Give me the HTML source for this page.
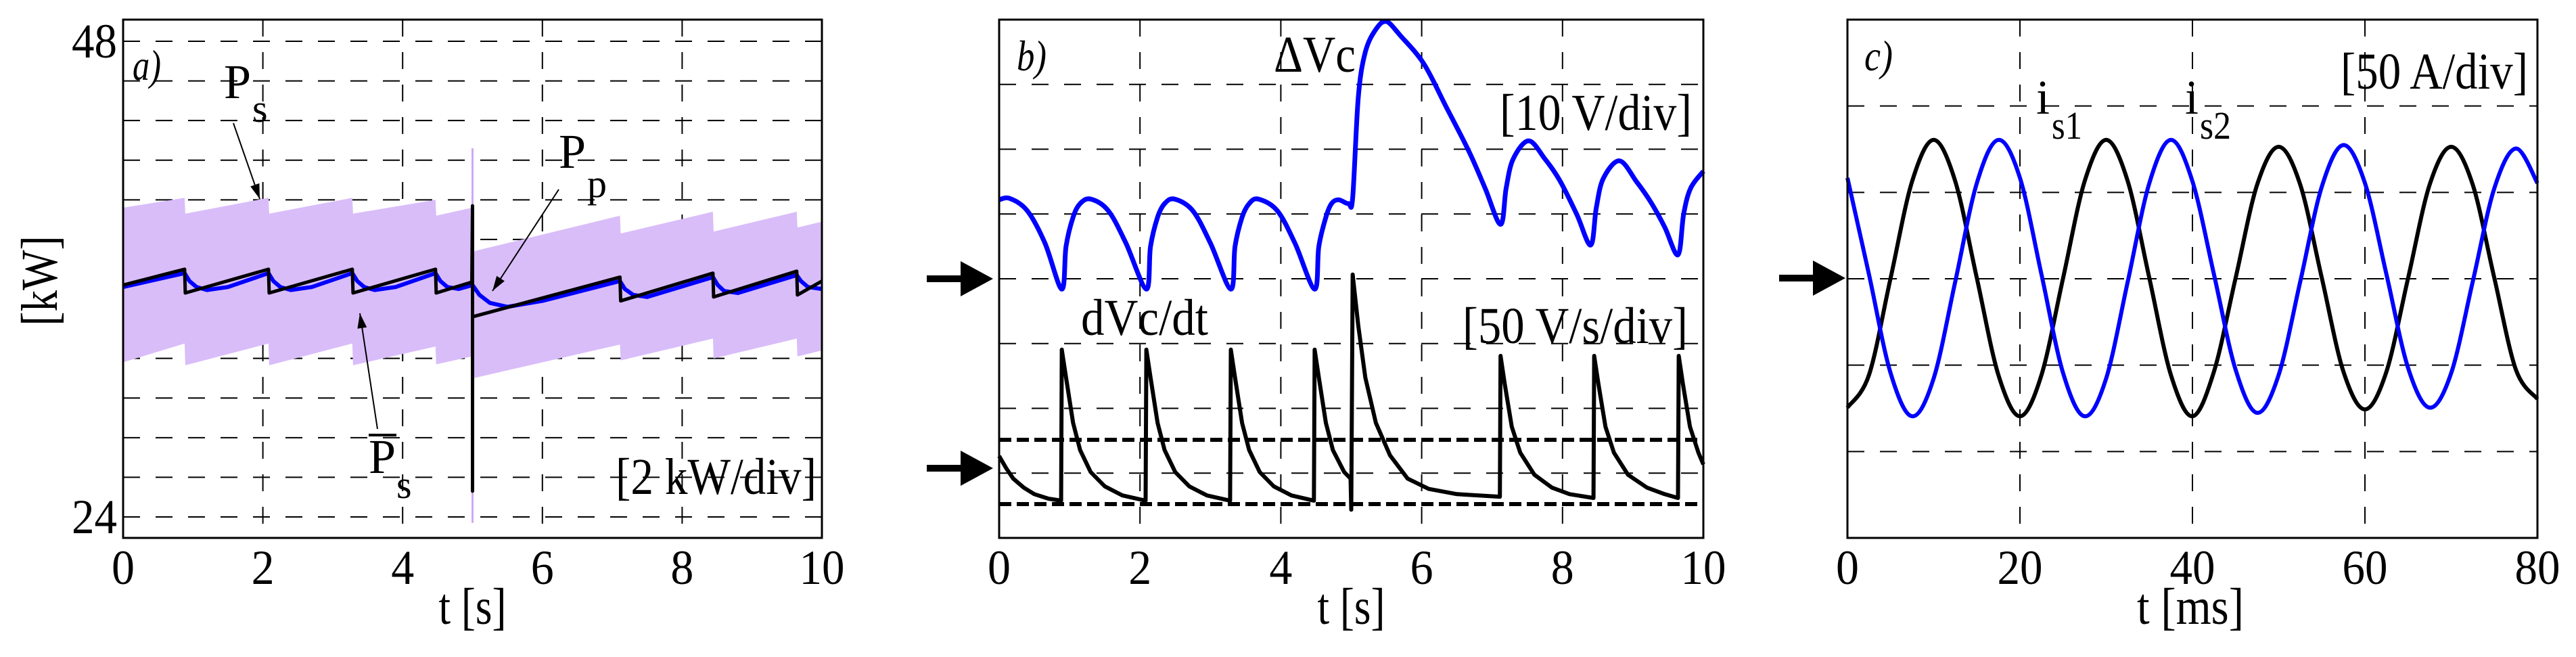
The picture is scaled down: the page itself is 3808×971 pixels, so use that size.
<!DOCTYPE html>
<html><head><meta charset="utf-8"><style>
html,body{margin:0;padding:0;background:#fff;}
svg{display:block;}
text{font-family:"Liberation Serif","Times New Roman",serif;fill:#000;}
</style></head>
<body>
<svg id="fig" width="3808" height="971" viewBox="0 0 3808 971" xmlns="http://www.w3.org/2000/svg">
<rect x="0" y="0" width="3808" height="971" fill="#fff"/>
<g id="pa"></g>
<g id="pb"></g>
<g id="pc"></g>
</svg>
<script>
// ---------- Panel a data ----------
const aXTicks = [0,2,4,6,8,10];
const aYTickLabels = [48,24];
const psT  = [0,0.88,0.89,2.08,2.09,3.28,3.29,4.47,4.48,4.99,5.01,7.11,7.12,8.44,8.45,9.64,9.65,10];
const psHi = [39.6,40.1,39.3,40.1,39.3,40.1,39.3,40.0,39.2,39.6,37.4,39.2,38.3,39.4,38.4,39.4,38.6,38.9];
const psLo = [31.8,32.75,31.65,32.75,31.65,32.75,31.65,32.6,31.7,32.1,31.0,32.7,31.9,33.0,32.0,33.0,32.1,32.4];
const psSpike = [42.6,23.7];
const psBarT = [0,0.88,0.89,2.08,2.09,3.28,3.29,4.47,4.48,4.99,5.0,5.0,5.0,7.11,7.12,8.44,8.45,9.64,9.65,10];
const psBarP = [35.7,36.5,35.3,36.5,35.3,36.5,35.3,36.5,35.3,35.85,39.7,25.3,34.1,36.1,34.9,36.3,35.1,36.4,35.2,35.9];
const ppT = [0,0.88,0.95,1.05,1.2,1.5,2.08,2.15,2.25,2.4,2.7,3.28,3.35,3.45,3.6,3.9,4.47,4.54,4.64,4.8,5.0,5.1,5.25,5.5,6.0,7.11,7.18,7.3,7.5,8.44,8.51,8.6,8.8,9.64,9.7,9.8,10];
const ppP = [35.6,36.3,35.9,35.6,35.45,35.6,36.3,35.9,35.6,35.45,35.6,36.3,35.9,35.6,35.45,35.6,36.3,35.9,35.6,35.5,35.7,35.2,34.8,34.6,34.9,35.9,35.5,35.2,35.1,36.1,35.7,35.4,35.3,36.2,35.9,35.6,35.5];

// ---------- Panel b data ----------
const bXTicks = [0,2,4,6,8,10];
const dvT = [0,0.15,0.4,0.65,0.89,0.95,1.05,1.15,1.3,1.55,1.8,2.09,2.15,2.25,2.35,2.49,2.75,3.0,3.29,3.35,3.45,3.55,3.68,3.95,4.2,4.48,4.54,4.64,4.72,4.82,4.96,5.02,5.1,5.2,5.35,5.5,5.7,6.03,6.35,6.67,6.9,7.12,7.2,7.3,7.52,7.75,7.96,8.2,8.4,8.48,8.58,8.81,9.05,9.25,9.45,9.64,9.72,9.82,10];
const dvV = [12.2,12.4,10.5,5.5,-1.6,5,9.5,11.6,12.3,10.5,5.5,-1.6,5,9.5,11.6,12.3,10.5,5.5,-1.6,5,9.5,11.6,12.3,10.5,5.5,-1.6,5,9.5,11.6,12.2,11.6,12.5,28,35,38.5,39.7,37.5,33.2,26.5,19.7,14,8.4,14,18.5,21.3,18.5,15.2,10,5.2,11,15.5,18.2,15,11.9,8,3.7,10,14,16.6];
const ddT = [0,0.1,0.2,0.35,0.5,0.7,0.88,0.89,0.95,1.05,1.15,1.3,1.5,1.75,2.08,2.09,2.15,2.25,2.35,2.5,2.7,2.95,3.28,3.29,3.35,3.45,3.55,3.7,3.9,4.15,4.47,4.48,4.54,4.64,4.74,4.9,4.99,5.0,5.02,5.1,5.2,5.35,5.55,5.8,6.1,6.5,7.11,7.12,7.18,7.28,7.4,7.6,7.85,8.1,8.44,8.45,8.51,8.61,8.73,8.93,9.2,9.45,9.64,9.65,9.71,9.81,9.93,10];
const ddV = [9.4,0,-8,-15,-20,-23.5,-25,91.5,70,35,14,-3,-14,-21,-25,91.5,70,35,14,-3,-14,-21,-25,91.5,70,35,14,-3,-14,-21,-25,91.5,70,35,14,-3,-8,-32,149.5,110,70,35,10,-8,-16,-20,-22,86.7,65,32,12,-5,-15,-20,-23,86.7,65,32,12,-5,-15,-20,-23,86.7,65,32,12,3];
const ddRef = [21.9,-27.7];

// ---------- Panel c data ----------
const cXTicks = [0,20,40,60,80];
const cT = [0,2.5,5,7.5,10,12.5,15,17.5,20,22.5,25,27.5,30,32.5,35,37.5,40,42.5,45,47.5,50,52.5,55,57.5,60,62.5,65,67.5,70,72.5,75,77.5,80];
const is1 = [-75,-56,0,56,80,56,0,-56,-80,-56,0,56,80,56,0,-56,-80,-54,0,54,76,54,0,-54,-76,-54,0,54,76,54,0,-53,-70];
const is2 = [58,2,-55,-80,-58,-2,55,80,58,2,-55,-80,-58,-2,55,80,56,2,-53,-78,-56,-2,53,77,55,2,-52,-75,-55,-2,52,75,55];

const NS = "http://www.w3.org/2000/svg";
function el(parent, tag, attrs, txt){
  const e = document.createElementNS(NS, tag);
  for (const k in attrs) e.setAttribute(k, attrs[k]);
  if (txt !== undefined) e.textContent = txt;
  parent.appendChild(e);
  return e;
}
function pathFrom(xs, ys, fx, fy){
  let d = "";
  for (let i=0;i<xs.length;i++) d += (i?"L":"M") + fx(xs[i]).toFixed(1) + "," + fy(ys[i]).toFixed(1);
  return d;
}
function smoothPath(xs, ys, fx, fy){
  const P = xs.map((x,i)=>[fx(x), fy(ys[i])]);
  let d = "M"+P[0][0]+","+P[0][1];
  for (let i=0;i<P.length-1;i++){
    const p0=P[Math.max(0,i-1)], p1=P[i], p2=P[i+1], p3=P[Math.min(P.length-1,i+2)];
    const c1=[p1[0]+(p2[0]-p0[0])/6, p1[1]+(p2[1]-p0[1])/6];
    const c2=[p2[0]-(p3[0]-p1[0])/6, p2[1]-(p3[1]-p1[1])/6];
    d += "C"+c1[0].toFixed(1)+","+c1[1].toFixed(1)+" "+c2[0].toFixed(1)+","+c2[1].toFixed(1)+" "+p2[0].toFixed(1)+","+p2[1].toFixed(1);
  }
  return d;
}
function hgrid(g, x0, x1, y){
  const l = el(g,"line",{x1:x0,x2:x1,y1:y,y2:y,stroke:"#000","stroke-width":2,"stroke-dasharray":"25 23"});
  
  
}
function vgrid(g, x, y0, y1){
  const l = el(g,"line",{x1:x,x2:x,y1:y0,y2:y1,stroke:"#000","stroke-width":2,"stroke-dasharray":"25 23"});
  
  
}
function frame(g, x0, y0, x1, y1){
  const r = el(g,"rect",{x:x0,y:y0,width:x1-x0,height:y1-y0,fill:"none",stroke:"#000","stroke-width":3});
  
  
}
function label(g, x, y, s, size, name, extra, len){
  const a = Object.assign({x:x,y:y,"font-size":size},extra||{});
  if (len) { a.textLength = len; a.lengthAdjust = "spacingAndGlyphs"; }
  const t = el(g,"text",a, s);
  
  
  return t;
}
function tickLen(s){ return s.length>1 ? 67 : 34; }
function arrowMark(g, tipX, y, name){
  const p = el(g,"polygon",{points:(tipX-98)+","+(y-5)+" "+(tipX-48)+","+(y-5)+" "+(tipX-48)+","+(y-26)+" "+tipX+","+y+" "+(tipX-48)+","+(y+26)+" "+(tipX-48)+","+(y+5)+" "+(tipX-98)+","+(y+5),fill:"#000"});
  
  
}
function pointer(g, x1, y1, x2, y2, name){
  const l = el(g,"line",{x1:x1,y1:y1,x2:x2,y2:y2,stroke:"#000","stroke-width":2});
  
  
  const a = Math.atan2(y2-y1, x2-x1), L=22, W=7;
  const bx = x2-L*Math.cos(a), by = y2-L*Math.sin(a);
  const h = el(g,"polygon",{points:x2+","+y2+" "+(bx+W*Math.sin(a))+","+(by-W*Math.cos(a))+" "+(bx-W*Math.sin(a))+","+(by+W*Math.cos(a)),fill:"#000"});
  
  
}

// ================= Panel a =================
(function(){
  const g = document.getElementById("pa");
  const L=182,R=1215,T=29,B=795;
  const xA = t => L + t*(R-L)/10;
  const yA = P => 61 + (48-P)*(764-61)/24;
  for (let k=0;k<=12;k++) hgrid(g, L, R, yA(48-2*k));
  for (const t of aXTicks) if (t>0 && t<10) vgrid(g, xA(t), T, B);
  let d = pathFrom(psT, psHi, xA, yA);
  for (let i=psT.length-1;i>=0;i--) d += "L"+xA(psT[i]).toFixed(1)+","+yA(psLo[i]).toFixed(1);
  const band = el(g,"path",{d:d+"Z",fill:"#d9bdf9",stroke:"none"});
  
  
  const sp = el(g,"line",{x1:xA(5),x2:xA(5),y1:yA(psSpike[0]),y2:yA(psSpike[1]),stroke:"#cfa8f7","stroke-width":3});
  
  
  const pp = el(g,"path",{d:pathFrom(ppT, ppP, xA, yA),fill:"none",stroke:"#0000ff","stroke-width":6,"stroke-linejoin":"round"});
  
  
  const pb = el(g,"path",{d:pathFrom(psBarT, psBarP, xA, yA),fill:"none",stroke:"#000","stroke-width":5,"stroke-linejoin":"round"});
  
  
  frame(g, L, T, R, B);
  for (const t of aXTicks) label(g, xA(t), 863, String(t), 72, 'x-tick-label', {"text-anchor":"middle"}, tickLen(String(t)));
  label(g, 173, yA(aYTickLabels[0])+24, String(aYTickLabels[0]), 72, 'y-tick-label', {"text-anchor":"end"}, 67);
  label(g, 173, yA(aYTickLabels[1])+24, String(aYTickLabels[1]), 72, 'y-tick-label', {"text-anchor":"end"}, 67);
  label(g, xA(5), 922, "t [s]", 76, 'x-axis-title', {"text-anchor":"middle"}, 100);
  label(g, 0, 0, "[kW]", 76, 'y-axis-title', {"text-anchor":"middle","transform":"translate(84,415) rotate(-90)"}, 133);
  label(g, 196, 118, "a)", 64, 'panel-label', {"font-style":"italic"}, 42);
  label(g, 331, 145, "P", 72, 'ps-label');
  label(g, 373, 180, "s", 58, 'ps-label-sub');
  pointer(g, 345, 182, 384, 294, 'ps-pointer');
  label(g, 826, 248, "P", 72, 'pp-label');
  label(g, 868, 291, "p", 58, 'pp-label-sub');
  pointer(g, 826, 280, 728, 430, 'pp-pointer');
  const ob = el(g,"line",{x1:545,x2:586,y1:643,y2:643,stroke:"#000","stroke-width":4});
  
  
  label(g, 545, 699, "P", 72, 'ps-mean-label');
  label(g, 586, 736, "s", 58, 'ps-mean-label-sub');
  pointer(g, 558, 634, 532, 463, 'ps-mean-pointer');
  label(g, 910, 730, "[2 kW/div]", 76, 'scale-label', {}, 297);
})();

// ================= Panel b =================
(function(){
  const g = document.getElementById("pb");
  const L=1477,R=2518,T=29,B=795;
  const xB = t => L + t*(R-L)/10;
  const yV = v => 412 - v*9.575;
  const yD = v => 692 - v*1.915;
  for (let k=1;k<8;k++) hgrid(g, L, R, T + k*(B-T)/8);
  for (const t of bXTicks) if (t>0 && t<10) vgrid(g, xB(t), T, B);
  for (const r of ddRef){
    const l = el(g,"line",{x1:L,x2:R,y1:yD(r),y2:yD(r),stroke:"#000","stroke-width":6,"stroke-dasharray":"18 8"});
    
    
  }
  const bl = el(g,"path",{d:smoothPath(dvT, dvV, xB, yV),fill:"none",stroke:"#0000ff","stroke-width":7,"stroke-linejoin":"round"});
  
  
  const dl = el(g,"path",{d:pathFrom(ddT, ddV, xB, yD),fill:"none",stroke:"#000","stroke-width":6,"stroke-linejoin":"round"});
  
  
  frame(g, L, T, R, B);
  for (const t of bXTicks) label(g, xB(t), 863, String(t), 72, 'x-tick-label', {"text-anchor":"middle"}, tickLen(String(t)));
  label(g, xB(5), 922, "t [s]", 76, 'x-axis-title', {"text-anchor":"middle"}, 100);
  arrowMark(g, 1468, 412, 'zero-arrow-dvc');
  arrowMark(g, 1468, 692, 'zero-arrow-dvdt');
  label(g, 1503, 104, "b)", 64, 'panel-label', {"font-style":"italic"}, 44);
  label(g, 1883, 106, "ΔVc", 76, 'delta-vc-label', {}, 121);
  label(g, 2217, 192, "[10 V/div]", 76, 'scale-label-dvc', {}, 284);
  label(g, 1598, 495, "dVc/dt", 76, 'dvdt-label', {}, 188);
  label(g, 2162, 507, "[50 V/s/div]", 76, 'scale-label-dvdt', {}, 333);
})();

// ================= Panel c =================
(function(){
  const g = document.getElementById("pc");
  const L=2731,R=3751,T=29,B=795;
  const xC = t => L + t*(R-L)/80;
  const yC = i => 411 - i*2.553;
  for (let k=1;k<6;k++) hgrid(g, L, R, T + k*(B-T)/6);
  for (const t of cXTicks) if (t>0 && t<80) vgrid(g, xC(t), T, B);
  const l1 = el(g,"path",{d:smoothPath(cT, is1, xC, yC),fill:"none",stroke:"#000","stroke-width":6});
  
  
  const l2 = el(g,"path",{d:smoothPath(cT, is2, xC, yC),fill:"none",stroke:"#0000ff","stroke-width":6});
  
  
  frame(g, L, T, R, B);
  for (const t of cXTicks) label(g, xC(t), 863, String(t), 72, 'x-tick-label', {"text-anchor":"middle"}, tickLen(String(t)));
  label(g, 3238, 922, "t [ms]", 76, 'x-axis-title', {"text-anchor":"middle"}, 158);
  arrowMark(g, 2728, 411, 'zero-arrow-current');
  label(g, 2756, 104, "c)", 64, 'panel-label', {"font-style":"italic"}, 42);
  label(g, 3460, 131, "[50 A/div]", 76, 'scale-label-current', {}, 277);
  label(g, 3010, 168, "i", 72, 'is1-label');
  label(g, 3033, 205, "s1", 58, 'is1-label-sub', {}, 45);
  label(g, 3230, 168, "i", 72, 'is2-label');
  label(g, 3252, 205, "s2", 58, 'is2-label-sub', {}, 46);
})();
</script>
</body></html>
